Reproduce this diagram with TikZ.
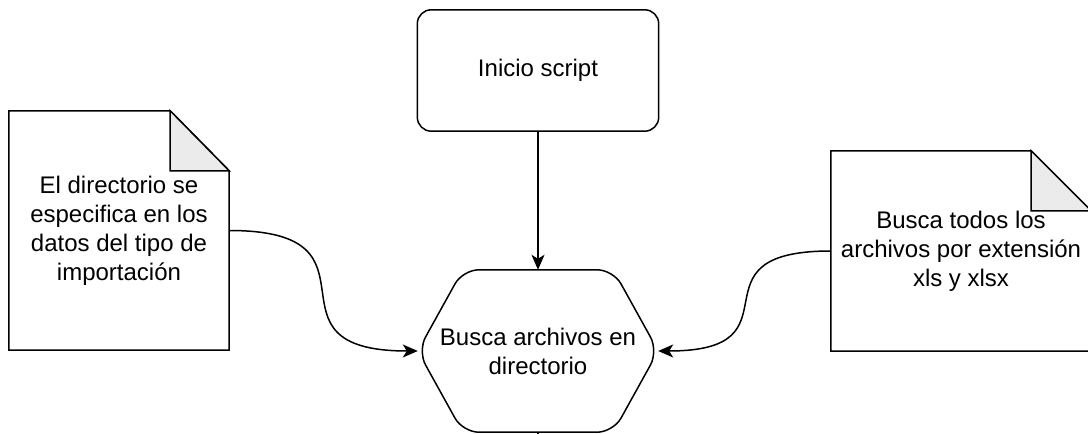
\documentclass[tikz,border=0pt]{standalone}
\usepackage{fontspec}
\setmainfont{Liberation Sans}
\usetikzlibrary{arrows.meta,calc}
\definecolor{foldgray}{RGB}{235,235,235}
\begin{document}
\begin{tikzpicture}[x=1bp,y=-1bp,
  lbl/.style={align=center, font=\fontsize{24bp}{29bp}\selectfont, inner sep=0pt, text=black},
  shp/.style={draw=black, line width=1.5bp},
  conn/.style={draw=black, line width=1.5bp, -{Stealth[length=15bp,width=13bp,inset=4bp]}}]
\clip (0,0) rectangle (1088,434);
% start box
\node[lbl, minimum width=241bp, minimum height=121bp] (start) at (538,70.5) {Inicio script};
\draw[shp, rounded corners=14bp] (start.north west) rectangle (start.south east);
% hexagon
\node[lbl, minimum width=240bp, minimum height=162bp] (hex) at (538,351) {Busca archivos en\\directorio};
\draw[shp, rounded corners=16bp] (hex.north) -- ($(hex.north east)+(-45,0)$) -- (hex.east) -- ($(hex.south east)+(-45,0)$) -- ($(hex.south west)+(45,0)$) -- (hex.west) -- ($(hex.north west)+(45,0)$) -- cycle;
% left note
\node[lbl, minimum width=220bp, minimum height=239bp] (noteL) at (119,230.5) {El directorio se\\especifica en los\\datos del tipo de\\importación};
\draw[shp] (noteL.north west) -- ($(noteL.north east)+(-59,0)$) -- ($(noteL.north east)+(0,60)$) -- (noteL.south east) -- (noteL.south west) -- cycle;
\draw[shp, fill=foldgray] ($(noteL.north east)+(-59,0)$) -- ($(noteL.north east)+(-59,60)$) -- ($(noteL.north east)+(0,60)$) -- cycle;
% right note
\node[lbl, minimum width=260bp, minimum height=200bp] (noteR) at (961,251) {Busca todos los\\archivos por extensión\\xls y xlsx};
\draw[shp] (noteR.north west) -- ($(noteR.north east)+(-60,0)$) -- ($(noteR.north east)+(0,60)$) -- (noteR.south east) -- (noteR.south west) -- cycle;
\draw[shp, fill=foldgray] ($(noteR.north east)+(-60,0)$) -- ($(noteR.north east)+(-60,60)$) -- ($(noteR.north east)+(0,60)$) -- cycle;
% connectors
\draw[conn] (start.south) -- (hex.north);
\draw[conn] (noteL.east) to[out=0,in=180,looseness=1.9] (hex.west);
\draw[conn] (noteR.west) to[out=180,in=0,looseness=1.9] (hex.east);
\coordinate (exit) at (538,450);
\draw[shp] (hex.south) -- (exit);
\end{tikzpicture}
\end{document}
